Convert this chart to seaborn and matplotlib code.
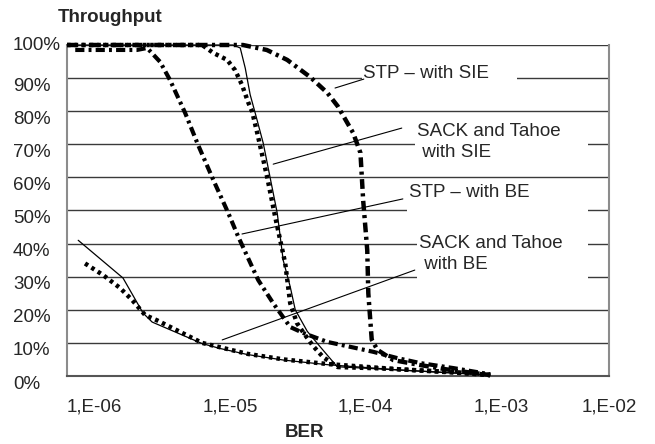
import matplotlib
matplotlib.use("Agg")
import matplotlib.pyplot as plt
import matplotlib.transforms as mtrans
from matplotlib.patches import Rectangle
import pandas as pd
import seaborn as sns

# ---------------- data ----------------
stp_sie_ber = [1.01e-6, 2.0e-5, 3.0e-5, 4.24e-5, 6.27e-5, 8.4e-5, 1.0e-4, 1.3e-4,
               1.47e-4, 1.54e-4, 1.65e-4, 1.68e-4, 1.78e-4, 1.96e-4, 2.57e-4,
               4.06e-4, 6.8e-4, 1.33e-3]
stp_sie_thr = [100, 100, 98.5, 95.5, 90.3, 85.5, 81.5, 73.4,
               67.4, 53, 38, 25, 11, 7.9, 4.8,
               3.3, 1.8, 0.3]

stp_be_ber = [1.16e-6, 3.3e-6, 3.93e-6, 4.9e-6, 5.8e-6, 7.49e-6, 9.34e-6, 1.21e-5,
              1.56e-5, 1.85e-5, 2.59e-5, 3.34e-5, 4.46e-5, 5.56e-5, 8.37e-5,
              1.24e-4, 1.83e-4, 2.75e-4, 4.06e-4, 7.1e-4, 1.33e-3]
stp_be_thr = [98.5, 98.5, 99.1, 94.9, 89.4, 79.5, 69.8, 59.2,
              49.2, 42, 29, 22, 14.8, 13, 10.3,
              8.8, 7.3, 5.4, 3.9, 2.4, 0.5]

sack_sie_dot_ber = [1.01e-6, 1.0e-5, 1.21e-5, 1.53e-5, 1.75e-5, 1.97e-5, 2.18e-5,
                    2.34e-5, 2.55e-5, 3.02e-5, 3.46e-5, 4.10e-5, 4.46e-5, 5.0e-5,
                    5.6e-5, 6.6e-5, 7.8e-5, 1.0e-4, 2.06e-4, 7.1e-4, 1.33e-3]
sack_sie_dot_thr = [100, 100, 97.6, 95.5, 92.4, 87.9, 82.8,
                    79.8, 73.4, 60, 48, 34, 22, 16,
                    13, 9, 5.7, 2.7, 2.3, 1.2, 0.2]

tahoe_sie_ber = [1.01e-6, 1.69e-5, 1.91e-5, 2.08e-5, 2.26e-5, 2.46e-5, 2.82e-5,
                 3.58e-5, 3.96e-5, 4.46e-5, 4.86e-5, 5.96e-5, 7.43e-5, 9.9e-5,
                 2.9e-4, 1.33e-3]
tahoe_sie_thr = [100, 100, 99.1, 93, 85, 79.5, 70.4,
                 49.2, 35, 27, 20, 13.5, 8.8, 2.8,
                 1.8, 0.3]

tahoe_be_ber = [1.22e-6, 2.61e-6, 3.67e-6, 4.28e-6, 1.0e-5, 1.36e-5, 2.15e-5,
                4.0e-5, 8.5e-5, 2.9e-4, 1.33e-3]
tahoe_be_thr = [41, 29.6, 19, 16.3, 9.8, 8.3, 6.5,
                4.8, 3.4, 1.8, 0.3]

sack_be_ber = [1.37e-6, 1.86e-6, 2.48e-6, 3.04e-6, 3.80e-6, 4.66e-6, 1.0e-5,
               2.15e-5, 4.0e-5, 8.5e-5, 2.9e-4, 1.33e-3]
sack_be_thr = [34, 30.5, 26.6, 23, 18.4, 16.8, 10,
               6.7, 5, 3.6, 2, 0.4]

x_ticks = [1e-6, 1e-5, 1e-4, 1e-3, 1e-2]
x_tick_labels = ["1,E-06", "1,E-05", "1,E-04", "1,E-03", "1,E-02"]
y_ticks = [0, 10, 20, 30, 40, 50, 60, 70, 80, 90, 100]
y_tick_labels = [f"{v}%" for v in y_ticks]

labels = ["STP \u2013 with SIE", "SACK and Tahoe\n with SIE",
          "STP \u2013 with BE", "SACK and Tahoe\n with BE"]

# ---------------- style ----------------
sns.set_style("white")
plt.rcParams["font.family"] = ["Liberation Sans", "DejaVu Sans"]
FS = 13.5

fig = plt.figure(figsize=(6.55, 4.44), dpi=100)
ax = fig.add_axes([66.5 / 655, 1 - 376 / 444, 542.5 / 655, 331 / 444])

dashdot = (0, (2.2, 1.0, 0.7, 1.0))
dotted = (0, (0.8, 0.9))

series = [
    (stp_sie_ber, stp_sie_thr, dict(lw=3.2, linestyle=dashdot)),
    (stp_be_ber, stp_be_thr, dict(lw=3.0, linestyle=dashdot)),
    (sack_sie_dot_ber, sack_sie_dot_thr, dict(lw=3.2, linestyle=dotted)),
    (tahoe_sie_ber, tahoe_sie_thr, dict(lw=0.9, linestyle="-")),
    (sack_be_ber, sack_be_thr, dict(lw=3.2, linestyle=dotted)),
    (tahoe_be_ber, tahoe_be_thr, dict(lw=0.9, linestyle="-")),
]
for xs, ys, kw in series:
    df = pd.DataFrame({"BER": xs, "Throughput": ys})
    sns.lineplot(data=df, x="BER", y="Throughput", ax=ax, color="black",
                 estimator=None, sort=False, zorder=3, clip_on=False,
                 dash_capstyle="butt", **kw)

ax.set_xscale("log")
ax.set_xlim(1e-6, 1e-2)
ax.set_ylim(0, 100)
ax.set_xlabel("")
ax.set_ylabel("")

# grid
ax.set_yticks(y_ticks)
ax.set_yticklabels(y_tick_labels, fontsize=FS)
ax.yaxis.grid(True, color="#3a3a3a", lw=1.0)
ax.xaxis.grid(False)
ax.set_axisbelow(True)
ax.minorticks_off()
ax.set_xticks(x_ticks)
ax.set_xticklabels(x_tick_labels, fontsize=FS)

ax.tick_params(axis="y", length=0, pad=38.5)
for lab in ax.get_yticklabels():
    lab.set_horizontalalignment("left")
ax.tick_params(axis="x", direction="out", length=5, width=1, color="#555555", pad=11)

# label offsets like the reference
for i, lab in enumerate(ax.get_yticklabels()):
    dy = 2 if i == len(y_ticks) - 1 else -6
    lab.set_transform(lab.get_transform() + mtrans.ScaledTranslation(0, dy / 100, fig.dpi_scale_trans))
ha_list = ["left", "left", "left", "left", "center"]
for lab, ha in zip(ax.get_xticklabels(), ha_list):
    lab.set_horizontalalignment(ha)

for side in ["left", "bottom", "right"]:
    ax.spines[side].set_visible(True)
    ax.spines[side].set_color("#8c8c8c")
    ax.spines[side].set_linewidth(1.5)
ax.spines["bottom"].set_color("#555555")
ax.spines["top"].set_visible(False)

# white label boxes (hide gridlines behind annotations)
boxes = [(0.545, 0.864, 0.285, 0.085),
         (0.642, 0.616, 0.319, 0.173),
         (0.628, 0.489, 0.333, 0.103),
         (0.646, 0.284, 0.315, 0.163)]
for x0, y0, w, h in boxes:
    ax.add_patch(Rectangle((x0, y0), w, h, transform=ax.transAxes,
                           facecolor="white", edgecolor="none", zorder=1.5))

text_pos = [(0.547, 0.915), (0.646, 0.708), (0.631, 0.553), (0.650, 0.369)]
leaders = [((0.495, 0.870), (0.548, 0.897)),
           ((0.381, 0.640), (0.618, 0.749)),
           ((0.3235, 0.429), (0.620, 0.535)),
           ((0.287, 0.109), (0.642, 0.320))]
for txt, (tx, ty), (p0, p1) in zip(labels, text_pos, leaders):
    ax.text(tx, ty, txt, transform=ax.transAxes, fontsize=FS, ha="left",
            va="center", linespacing=1.3, zorder=5)
    ax.plot([p0[0], p1[0]], [p0[1], p1[1]], transform=ax.transAxes,
            color="black", lw=0.8, zorder=4)

fig.text(110 / 655, 1 - 17 / 444, "Throughput", fontsize=FS, fontweight="bold",
         ha="center", va="center")
fig.text(305 / 655, 1 - 432 / 444, "BER", fontsize=FS, fontweight="bold",
         ha="center", va="center")

fig.savefig("out.png", dpi=100, facecolor="white")
